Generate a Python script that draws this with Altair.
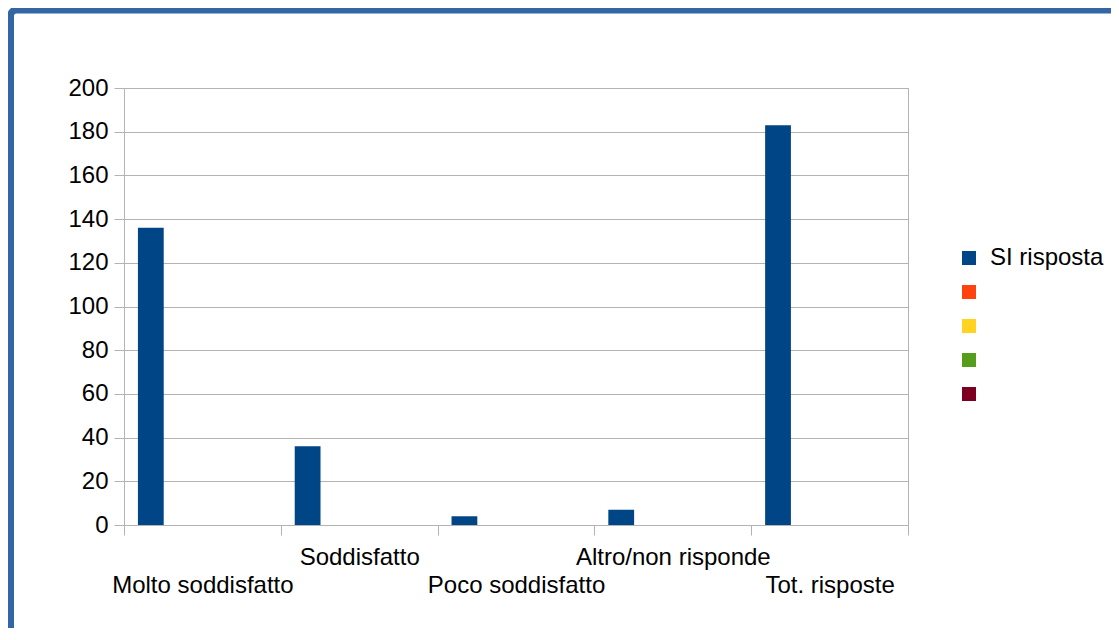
import json
import altair as alt
import pandas as pd

categories = ["Molto soddisfatto", "Soddisfatto", "Poco soddisfatto", "Altro/non risponde", "Tot. risposte"]
values = [136, 36, 4, 7, 183]
series = ["SI risposta", " ", "  ", "   ", "    "]
colors = ["#004586", "#ff420e", "#ffd320", "#579d1c", "#7e0021"]
y_ticks = list(range(0, 201, 20))

FONT = "Liberation Sans"
GRID = "#b3b3b3"

df = pd.DataFrame({"cat": categories, "val": values, "serie": series[0]})

upper = categories[1::2]
label_expr = ("indexof(" + json.dumps(upper) + ", datum.value) >= 0 ? datum.label : ['', datum.label]")

bars = alt.Chart(df).mark_bar().encode(
    x=alt.X(
        "cat:N",
        sort=categories,
        scale=alt.Scale(paddingInner=0, paddingOuter=0),
        axis=alt.Axis(
            title=None, labelAngle=0, tickBand="extent", tickSize=10,
            tickColor=GRID, domainColor=GRID, grid=False,
            labelFont=FONT, labelFontSize=24, labelColor="black",
            labelPadding=10, labelLineHeight=28, labelExpr=label_expr,
            labelOverlap=False, labelLimit=0, labelBaseline="top",
        ),
    ),
    xOffset=alt.XOffset("serie:N", scale=alt.Scale(domain=series, paddingInner=0, paddingOuter=0.54)),
    y=alt.Y(
        "val:Q",
        scale=alt.Scale(domain=[0, 200], nice=False),
        axis=alt.Axis(
            title=None, values=y_ticks, tickSize=10, tickColor=GRID,
            domainColor=GRID, gridColor=GRID, grid=True,
            labelFont=FONT, labelFontSize=24, labelColor="black", labelPadding=6,
        ),
    ),
    color=alt.Color(
        "serie:N",
        scale=alt.Scale(domain=series, range=colors),
        legend=alt.Legend(
            title=None, orient="none", legendX=833, legendY=158,
            symbolType="square", symbolSize=196, symbolStrokeWidth=0, symbolOpacity=1,
            labelFont=FONT, labelFontSize=24, labelColor="black", labelOffset=9,
            rowPadding=10, gridAlign="all", padding=0, labelLimit=0,
        ),
    ),
)

frame = alt.Chart(alt.Data(values=[{}])).mark_rect(
    fill="white", fillOpacity=0, stroke="#3465a4", strokeWidth=7, cornerRadius=6
).encode(
    x=alt.value(-113.5), x2=alt.value(1010), y=alt.value(-78), y2=alt.value(600)
)

chart = alt.layer(frame, bars).properties(
    width=784, height=437,
    autosize=alt.AutoSizeParams(type="none"),
    padding={"left": 116, "top": 80, "right": 203, "bottom": 103},
    background="white",
).configure_view(stroke=GRID, strokeWidth=1)

chart.save("out.html", embed_options={"renderer": "svg", "actions": False})
